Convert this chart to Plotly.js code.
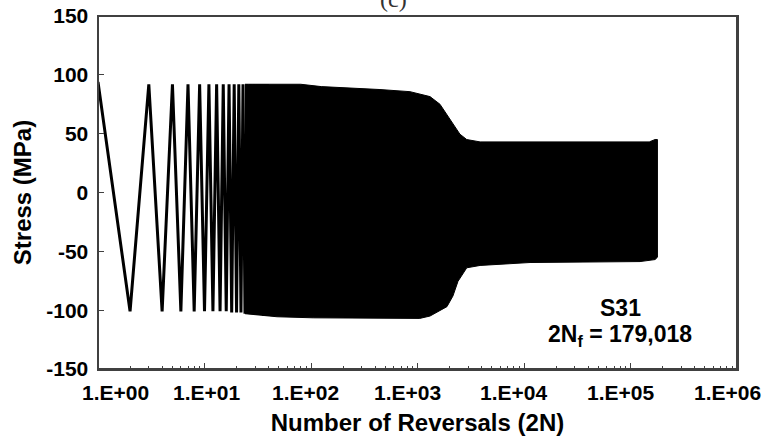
<!DOCTYPE html>
<html>
<head>
<meta charset="utf-8">
<script src="https://cdn.plot.ly/plotly-3.0.1.min.js"></script>
<style>html,body{margin:0;padding:0;background:#fff;overflow:hidden;}#chart{width:763px;height:445px;}</style>
</head>
<body>
<div id="chart"></div>
<script>
// Individual reversals (sparse part of the history)
const reversals = [1,2,3,4,5,6,7,8,9,10,11,12,13,14,15,16,17,18,19,20,21,22,23,24,25,26,27,28,29,30,31,32,33,34,35,36,37,38,39,40];
const stress = [94,-101,92,-101,92,-101,92,-101,92,-101,92,-101,92,-101,92,-101,92,-102,92,-102,92,-102,92,-103,92,-103,92,-103,92,-104,92,-104,92,-104,92,-105,92,-105,92,-105];

// Envelope of the dense part (peak and valley stresses)
const upperN = [24, 80, 125, 290, 444, 850, 1310, 1625, 1890, 2150, 2500, 2900, 3870, 10000, 50000, 150000, 170000, 179018];
const upperS = [92, 92, 90, 88.7, 87.5, 85.7, 81.5, 75, 66, 58, 49.6, 45, 43, 43, 43, 43, 45, 45];
const lowerN = [24, 48, 105, 444, 1050, 1310, 1890, 2150, 2400, 2900, 3870, 11400, 123000, 170000, 179018];
const lowerS = [-103, -105.6, -106.5, -107, -107, -105, -97, -88, -75.5, -64, -62, -59.5, -58.7, -57, -55];

const xTickVals = [1, 10, 100, 1000, 10000, 100000, 1000000];
const xTickText = ['1.E+00','1.E+01','1.E+02','1.E+03','1.E+04','1.E+05','1.E+06'];
const yTickVals = [-150, -100, -50, 0, 50, 100, 150];
const yTickText = ['-150', '-100', '-50', '0', '50', '100', '150'];

// horizontal nudges (px) of the x tick labels, as placed in the original figure
const xLabelNudge = [17, 2, -6, -10, -11, -10, -10];

const polyX = upperN.concat(lowerN.slice().reverse());
const polyY = upperS.concat(lowerS.slice().reverse());

const font = {family: 'Liberation Sans, Arial, sans-serif', color: '#000', weight: 700};
const axisColor = '#404040';

const traces = [
  {x: reversals, y: stress, type: 'scatter', mode: 'lines',
   line: {color: '#000', width: 3}, hoverinfo: 'skip'},
  {x: polyX, y: polyY, type: 'scatter', mode: 'lines', fill: 'toself',
   fillcolor: '#000', line: {color: '#000', width: 1}, hoverinfo: 'skip'}
];

const xLabelAnnotations = xTickVals.map((v, i) => ({
  text: xTickText[i], xref: 'x', yref: 'paper', x: Math.log10(v), y: 0,
  xanchor: 'center', yanchor: 'middle', yshift: -23, xshift: xLabelNudge[i],
  showarrow: false, font: Object.assign({size: 21}, font)
}));

const frameLine = {color: axisColor, width: 2};

const layout = {
  width: 763, height: 445,
  margin: {l: 98, r: 26, t: 16, b: 76},
  paper_bgcolor: '#fff', plot_bgcolor: '#fff',
  showlegend: false,
  xaxis: {
    type: 'log', range: [0, 6],
    tickvals: xTickVals, showticklabels: false,
    ticks: 'inside', ticklen: 6, tickwidth: 1, tickcolor: axisColor,
    minor: {ticks: 'inside', ticklen: 3, tickwidth: 1, tickcolor: axisColor, dtick: 'D1', showgrid: false},
    showline: true, linecolor: axisColor, linewidth: 1.5, mirror: true,
    showgrid: false, zeroline: false,
    title: {text: 'Number of Reversals (2N)', font: Object.assign({size: 24}, font), standoff: 44}
  },
  yaxis: {
    range: [-150, 150],
    tickvals: yTickVals, ticktext: yTickText,
    ticks: 'inside', ticklen: 6, tickwidth: 1, tickcolor: axisColor,
    showline: true, linecolor: axisColor, linewidth: 1.5, mirror: true,
    showgrid: false, zeroline: false,
    ticklabelstandoff: 4,
    tickfont: Object.assign({size: 21}, font),
    title: {text: 'Stress (MPa)', font: Object.assign({size: 24}, font), standoff: 8}
  },
  shapes: [
    {type: 'line', xref: 'paper', yref: 'paper', x0: 0, x1: 1, y0: 0, y1: 0, line: frameLine, layer: 'above'},
    {type: 'line', xref: 'paper', yref: 'paper', x0: 1, x1: 1, y0: 0, y1: 1, line: frameLine, layer: 'above'},
    {type: 'line', xref: 'paper', yref: 'paper', x0: 0, x1: 1, y0: 1, y1: 1, line: frameLine, layer: 'above'},
    {type: 'line', xref: 'paper', yref: 'paper', x0: 0, x1: 0, y0: 0, y1: 1, line: frameLine, layer: 'above'}
  ],
  annotations: xLabelAnnotations.concat([
    {text: 'S31', xref: 'paper', yref: 'paper', x: 0.817, y: 0.172,
     xanchor: 'center', yanchor: 'middle', showarrow: false,
     font: Object.assign({size: 23}, font)},
    {text: '2N<sub>f</sub> = 179,018', xref: 'paper', yref: 'paper', x: 0.817, y: 0.094,
     xanchor: 'center', yanchor: 'middle', showarrow: false,
     font: Object.assign({size: 23}, font)},
    {text: '(c)', xref: 'paper', yref: 'paper', x: 0.462, y: 1, yshift: 17,
     xanchor: 'center', yanchor: 'middle', showarrow: false,
     font: {family: 'Liberation Serif, Times New Roman, serif', size: 24, color: '#333'}}
  ])
};

Plotly.newPlot('chart', traces, layout, {staticPlot: true, displayModeBar: false});
</script>
</body>
</html>
